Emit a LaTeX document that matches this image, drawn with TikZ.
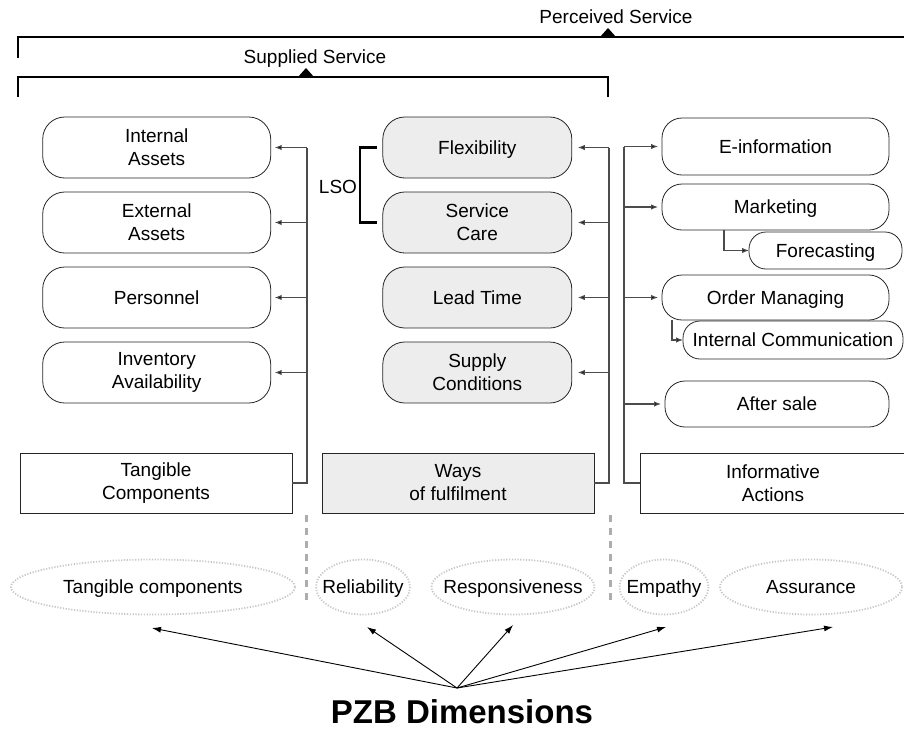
\documentclass[tikz,border=0pt]{standalone}
\usepackage{fontspec}
\setmainfont{Liberation Sans}
\usetikzlibrary{arrows.meta,shapes.geometric,calc}
\begin{document}
\begin{tikzpicture}[x=1pt,y=-1pt,
  font=\fontsize{19}{23}\selectfont,
  every node/.style={inner sep=0pt,outer sep=0pt,align=center},
  one/.style={text height=13.6pt,text depth=0pt},
  rbox/.style={draw=black!85,line width=0.8pt,rounded corners=22pt,minimum width=228pt,minimum height=61pt},
  gbox/.style={rbox,fill=black!7,minimum width=189pt},
  pill/.style={draw=black!85,line width=0.8pt,rounded corners=20pt,fill=white,one},
  sbox/.style={draw=black!85,line width=0.8pt,minimum width=272pt,minimum height=60pt},
  trunk/.style={draw=black!70,line width=1.1pt},
  arr/.style={trunk,-{Latex[length=7pt,width=5.5pt,fill=black]}},
  bracket/.style={draw=black,line width=1.6pt},
  dimline/.style={draw=black!22,line width=1.8pt,dash pattern=on 1.2pt off 1.6pt},
  sepline/.style={draw=black!32,line width=3pt,dash pattern=on 7pt off 6pt},
  pzarr/.style={draw=black,line width=0.9pt,-{Latex[length=9pt,width=6pt]}}
]
\useasboundingbox (0,0) rectangle (904,729);

% top brackets
\node[one] (ps) at (616,17) {Perceived Service};
\coordinate (psl) at (18,58);
\coordinate (psr) at (906,37);
\draw[bracket] (psl) |- (psr);
\coordinate (pst) at (608,37);
\fill ($(pst)+(-8,0)$) -- ($(pst)+(8,0)$) -- ($(pst)+(0,-9)$) -- cycle;

\node[one] (ss) at (315,57) {Supplied Service};
\coordinate (ssl) at (18,97);
\coordinate (ssr) at (608,97);
\draw[bracket] (ssl) |- ($(ssr)+(0,-20)$) -- (ssr);
\coordinate (sst) at (306,77);
\fill ($(sst)+(-8,0)$) -- ($(sst)+(8,0)$) -- ($(sst)+(0,-9)$) -- cycle;

% left column
\node[rbox] (ia) at (156.7,147.5) {Internal\\Assets};
\node[rbox] (ea) at (156.7,222.5) {External\\Assets};
\node[rbox,one] (pe) at (156.7,297.5) {Personnel};
\node[rbox] (iv) at (156.7,372.5) {Inventory\\Availability};

% middle column
\node[gbox,one] (fl) at (477.3,147.5) {Flexibility};
\node[gbox] (sc) at (477.3,222.5) {Service\\Care};
\node[gbox,one] (lt) at (477.3,297.5) {Lead Time};
\node[gbox] (su) at (477.3,372.5) {Supply\\Conditions};

% right column
\node[pill,minimum width=227pt,minimum height=57pt] (ei) at (775.5,146.5) {E-information};
\node[pill,minimum width=227pt,minimum height=46pt] (mk) at (775.5,207) {Marketing};
\node[pill,rounded corners=17pt,minimum width=153pt,minimum height=37pt] (fc) at (825.5,250.5) {Forecasting};
\node[pill,minimum width=227pt,minimum height=45pt] (om) at (775.5,297.5) {Order Managing};
\node[pill,rounded corners=17pt,minimum width=220pt,minimum height=38pt] (ic) at (793,340) {Internal Communication};
\node[pill,minimum width=224pt,minimum height=46pt] (as) at (777,404) {After sale};

% bottom boxes
\node[sbox] (tc) at (156,483) {Tangible\\Components};
\node[sbox,fill=black!7] (wf) at (458,483) {Ways\\of fulfilment};
\node[sbox,minimum width=266pt] (inf) at (773,483) {Informative\\Actions};

% trunks and arrows
\coordinate (lt0) at (307,147.5);
\draw[trunk] (tc.east) -| (lt0);
\foreach \n in {ia,ea,pe,iv} \draw[arr,shorten >=4pt] (lt0 |- \n.east) -- (\n.east);

\coordinate (mt0) at (609,147.5);
\draw[trunk] (wf.east) -| (mt0);
\foreach \n in {fl,sc,lt,su} \draw[arr,shorten >=6pt] (mt0 |- \n.east) -- (\n.east);

\coordinate (rt0) at (624,146.5);
\draw[trunk] (inf.west) -| (rt0);
\foreach \n in {ei,mk,om,as} \draw[arr,shorten >=4pt] (rt0 |- \n.west) -- (\n.west);

\draw[arr] ([xshift=-51.5pt]mk.south) |- (fc.west);
\draw[arr] ([xshift=-103.5pt]om.south) |- (ic.west);

% LSO bracket
\draw[line width=2.2pt] ([xshift=-6pt]fl.west) -| ($(sc.west)+(-23,0)$) -- ([xshift=-6pt]sc.west);
\node[anchor=east,one] (lso) at (357,187) {LSO};

% separators
\draw[sepline] (306,515) -- (306,603);
\draw[sepline] (610,515) -- (610,603);

% PZB dimensions
\node[one] (d1) at (153,587) {Tangible components};
\node[one] (d2) at (363,587) {Reliability};
\node[one] (d3) at (513,587) {Responsiveness};
\node[one] (d4) at (664,587) {Empathy};
\node[one] (d5) at (811,587) {Assurance};
\draw[dimline] (d1) ellipse [x radius=142, y radius=27.5];
\draw[dimline] (d2) ellipse [x radius=47, y radius=27.5];
\draw[dimline] (d3) ellipse [x radius=81.5, y radius=27.5];
\draw[dimline] (d4) ellipse [x radius=44.5, y radius=27.5];
\draw[dimline] (d5) ellipse [x radius=91, y radius=27.5];

\coordinate (pc) at (457,688);
\node[font=\bfseries\fontsize{33}{36}\selectfont] (pzb) at (462,712) {PZB Dimensions};
\coordinate (t1) at ($(d1)+(-1,41)$);
\coordinate (t2) at ($(d2)+(4,40)$);
\coordinate (t3) at ($(d3)+(0,38)$);
\coordinate (t4) at ($(d4)+(2,40)$);
\coordinate (t5) at ($(d5)+(22,40)$);
\foreach \t in {t1,t2,t3,t4,t5} \draw[pzarr] (pc) -- (\t);
\end{tikzpicture}
\end{document}
